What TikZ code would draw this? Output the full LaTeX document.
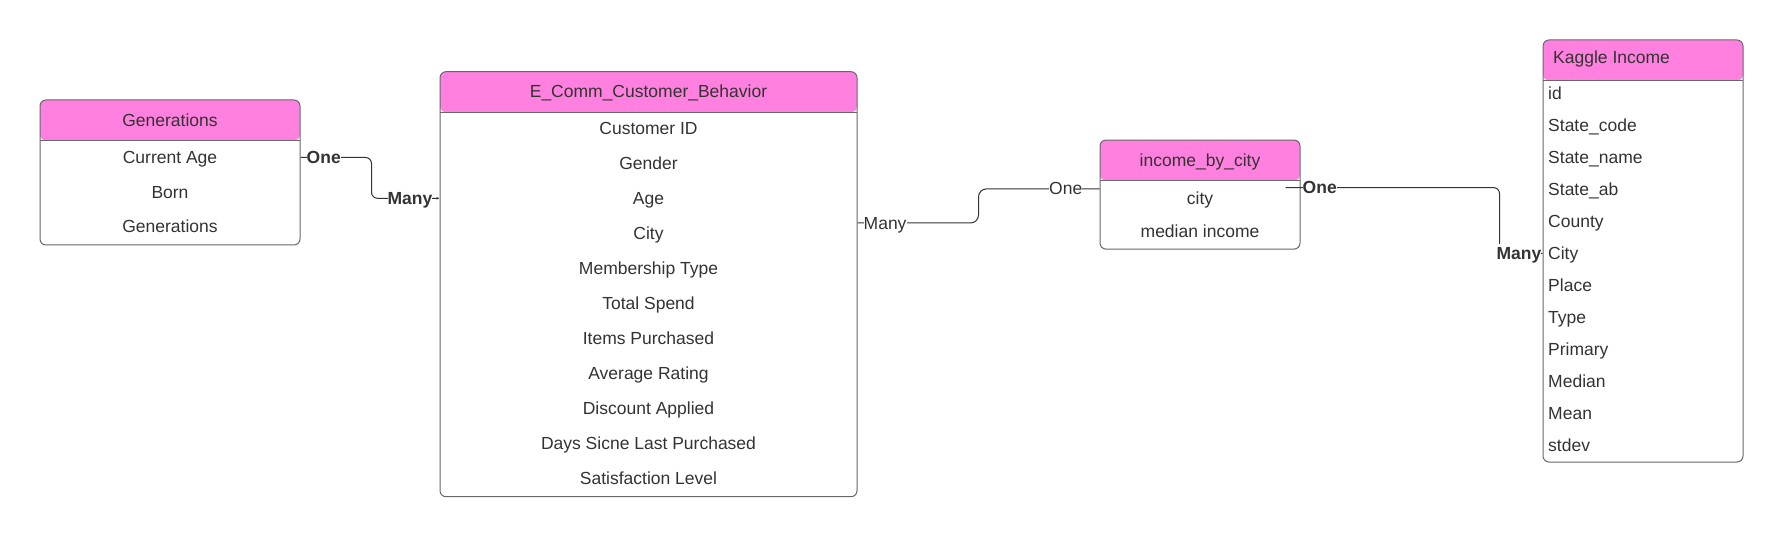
\documentclass[tikz,border=0pt]{standalone}
\usepackage{fontspec}
\setmainfont{Liberation Sans}
\usepackage{tikz}
\usetikzlibrary{positioning, arrows.meta, calc}
\definecolor{hdrpink}{HTML}{FF80DF}
\definecolor{edgegray}{HTML}{67676C}
\definecolor{inkgray}{HTML}{333333}
\tikzset{
    x=1pt, y=-1pt, % pixel grid, y runs downwards
    entity/.style={ % one table box with its pink header band
        draw=edgegray,
        line width=1pt,
        rounded corners=6pt,
        fill=white,
        inner sep=0pt,
        path picture={
            \fill[hdrpink] (path picture bounding box.north west)
                rectangle ([yshift=-40.5pt]path picture bounding box.north east);
            \draw[edgegray, line width=1pt]
                ([yshift=-40.5pt]path picture bounding box.north west)
                -- ([yshift=-40.5pt]path picture bounding box.north east);
        }
    },
    fieldtext/.style={ % text of a title or a row
        font=\fontsize{17.5}{21}\selectfont,
        text=inkgray,
        inner sep=0pt,
        text height=15.8pt,
        text depth=3.7pt
    },
    cardlabel/.style={fieldtext, fill=white}, % One / Many on a line
    cardbold/.style={cardlabel, font=\fontsize{17.5}{21}\selectfont\bfseries},
    conn/.style={ % relationship line
        draw=inkgray,
        line width=1pt,
        rounded corners=6pt
    },
}

\begin{document}
\begin{tikzpicture}
    \useasboundingbox (0,0) rectangle (1783,537);

    % tables
    \node[entity, minimum width=260pt, minimum height=145pt]  (gen)    at (170,172.5)   {};
    \node[entity, minimum width=417pt, minimum height=425pt]  (ecomm)  at (648.5,284.2) {};
    \node[entity, minimum width=200pt, minimum height=109pt]  (city)   at (1200,194.6)  {};
    \node[entity, minimum width=200pt, minimum height=422pt]  (kaggle) at (1643,251)    {};

    % titles
    \node[fieldtext]              (genT)    at (170,120)    {Generations};
    \node[fieldtext]              (ecommT)  at (648.5,91.5) {E\_Comm\_Customer\_Behavior};
    \node[fieldtext]              (cityT)   at (1200,160)   {income\_by\_city};
    \node[fieldtext, anchor=west] (kaggleT) at (1553,57.5)  {Kaggle Income};

    % rows
    \foreach \fld [count=\i] in {Current Age, Born, Generations}
        \node[fieldtext] (gen-\i) at (170,{157.5+34.5*(\i-1)}) {\fld};
    \foreach \fld [count=\i] in {Customer ID, Gender, Age, City, Membership Type,
            Total Spend, Items Purchased, Average Rating, Discount Applied,
            Days Sicne Last Purchased, Satisfaction Level}
        \node[fieldtext] (ecomm-\i) at (648.5,{128.3+35*(\i-1)}) {\fld};
    \foreach \fld [count=\i] in {city, median income}
        \node[fieldtext] (city-\i) at (1200,{198.3+33.4*(\i-1)}) {\fld};
    \foreach \fld [count=\i] in {id, State\_code, State\_name, State\_ab, County, City,
            Place, Type, Primary, Median, Mean, stdev}
        \node[fieldtext, anchor=west] (kag-\i) at (1548,{93.3+32*(\i-1)}) {\fld};

    % line ends
    \coordinate (c1s) at (gen.east |- gen-1);
    \coordinate (c1e) at (ecomm.west |- ecomm-3);
    \coordinate (c2s) at ([yshift=-151.8pt]ecomm.north east);
    \coordinate (c2e) at ([yshift=-49.3pt]city.north west);
    \coordinate (c3s) at ([xshift=-15pt, yshift=-48pt]city.north east);
    \coordinate (c3e) at (kaggle.west |- kag-6);

    % relationships
    \draw[conn, -{Latex[length=3pt, width=3pt]}] (c1s) -- ++(71,0) |- (c1e);
    \draw[conn, rounded corners=8pt] (c2s) -- ++(121,0) |- (c2e);
    \draw[conn] (c3s) -- ++(214,0) |- (c3e);

    \node[cardbold, right=6pt of c1s]   (one1)  {One};
    \node[cardbold, left=7pt of c1e]    (many1) {Many};
    \node[cardlabel, right=6pt of c2s]  (many2) {Many};
    \node[cardlabel, left=17pt of c2e]  (one2)  {One};
    \node[cardbold, right=17pt of c3s]  (one3)  {One};
    \node[cardbold, left=1pt of c3e]    (many3) {Many};
\end{tikzpicture}
\end{document}
